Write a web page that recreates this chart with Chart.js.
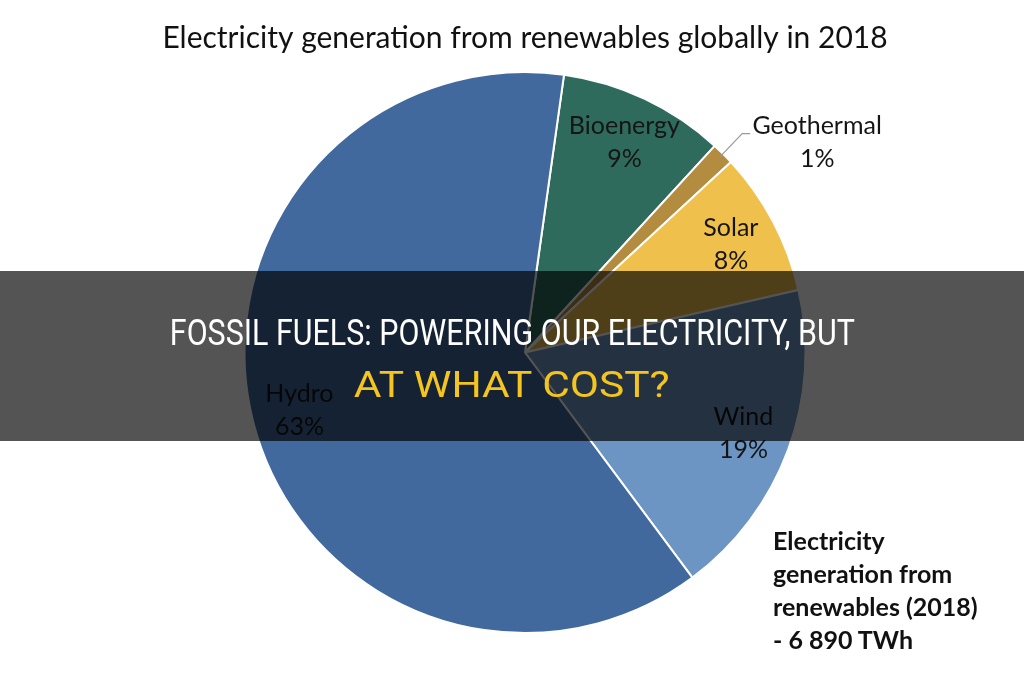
<!DOCTYPE html>
<html><head><meta charset="utf-8">
<script src="https://cdn.jsdelivr.net/npm/chart.js@4"></script>
<style>
html,body{margin:0;padding:0;background:#fff;}
#wrap{position:relative;width:1024px;height:680px;overflow:hidden;}
#c{position:absolute;left:0;top:0;}
#note{position:absolute;left:773px;top:524px;font-family:Lato;font-weight:bold;font-size:25px;line-height:33px;color:#111;}
#banner{position:absolute;left:0;top:271px;width:1024px;height:170px;background:rgba(0,0,0,0.67);}
.bl{position:absolute;left:0;width:1024px;text-align:center;font-family:Roboto;font-size:37px;white-space:nowrap;line-height:40px;}
.bl span{display:inline-block;transform-origin:center center;}
</style>
</head><body>
<div id="wrap">
<canvas id="c" width="1024" height="680"></canvas>
<div id="note"></div>
<div id="banner">
  <div class="bl" id="b1" style="top:42px;color:#ffffff"><span></span></div>
  <div class="bl" id="b2" style="top:94px;color:#f5c51f"><span></span></div>
</div>
</div>
<script>
const titleText = 'Electricity generation from renewables globally in 2018';
const categories = ['Bioenergy', 'Geothermal', 'Solar', 'Wind', 'Hydro'];
const shares = [9.6, 1.3, 8.3, 18.4, 62.4];
const percentLabels = ['9%', '1%', '8%', '19%', '63%'];
const sliceColors = ['#2f6b5d', '#b38c40', '#f0c04c', '#6d95c4', '#41699e'];
const noteLines = ['Electricity', 'generation from', 'renewables (2018)', '- 6 890 TWh'];
const bannerLine1 = 'FOSSIL FUELS: POWERING OUR ELECTRICITY, BUT';
const bannerLine2 = 'AT WHAT COST?';

document.getElementById('note').innerHTML = noteLines.join('<br>');
const s1 = document.querySelector('#b1 span'); s1.textContent = bannerLine1;
const s2 = document.querySelector('#b2 span'); s2.textContent = bannerLine2;

const labelPlugin = {
  id: 'sliceLabels',
  afterDatasetsDraw(chart) {
    const ctx = chart.ctx;
    const meta = chart.getDatasetMeta(0);
    ctx.save();
    ctx.fillStyle = '#151515';
    ctx.textAlign = 'center';
    ctx.textBaseline = 'middle';
    ctx.font = '25px Lato';
    meta.data.forEach((arc, i) => {
      const p = arc.getProps(['x','y','startAngle','endAngle','outerRadius'], true);
      const mid = (p.startAngle + p.endAngle) / 2;
      if (categories[i] === 'Geothermal') {
        const ax = p.x + Math.cos(mid) * (p.outerRadius - 4);
        const ay = p.y + Math.sin(mid) * (p.outerRadius - 4);
        ctx.strokeStyle = '#9a9a9a';
        ctx.lineWidth = 1.2;
        ctx.beginPath();
        ctx.moveTo(ax, ay);
        ctx.lineTo(ax + 22, ay - 23);
        ctx.lineTo(ax + 30, ay - 23);
        ctx.stroke();
        const lx = ax + 97, ly = ay - 15;
        ctx.fillText(categories[i], lx, ly - 16);
        ctx.fillText(percentLabels[i], lx, ly + 17);
      } else {
        const r = p.outerRadius * 0.83;
        const lx = p.x + Math.cos(mid) * r;
        const ly = p.y + Math.sin(mid) * r;
        ctx.fillText(categories[i], lx, ly - 16);
        ctx.fillText(percentLabels[i], lx, ly + 17);
      }
    });
    ctx.restore();
  }
};

new Chart(document.getElementById('c'), {
  type: 'pie',
  data: {
    labels: categories,
    datasets: [{
      data: shares,
      backgroundColor: sliceColors,
      borderColor: '#ffffff',
      borderWidth: 2
    }]
  },
  options: {
    responsive: false,
    animation: false,
    rotation: 8,
    layout: { padding: { top: 0, bottom: 46, left: 26, right: 0 } },
    plugins: {
      legend: { display: false },
      tooltip: { enabled: false },
      title: {
        display: true,
        text: titleText,
        color: '#111111',
        font: { family: 'Lato', size: 30, weight: 'normal' },
        padding: { top: 20, bottom: 15 }
      }
    }
  },
  plugins: [labelPlugin]
});

function fit(span, target) {
  const w = span.getBoundingClientRect().width;
  span.style.transform = 'scaleX(' + (target / w) + ')';
}
fit(s1, 685);
fit(s2, 316);
</script>
</body></html>
